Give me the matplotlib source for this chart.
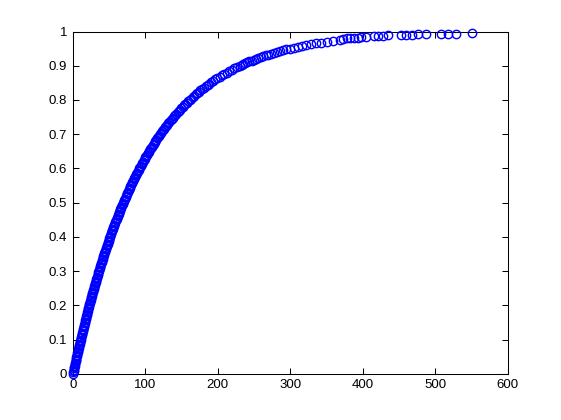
import matplotlib
matplotlib.use("Agg")
import matplotlib.pyplot as plt

x_vals = [
    0.00, 0.40, 0.80, 1.21, 1.61, 2.02, 2.43, 2.84, 3.25, 3.67,
    4.08, 4.50, 4.92, 5.34, 5.76, 6.19, 6.61, 7.04, 7.47, 7.90,
    8.34, 8.77, 9.21, 9.65, 10.09, 10.54, 10.98, 11.43, 11.88, 12.33,
    12.78, 13.24, 13.70, 14.16, 14.62, 15.08, 15.55, 16.02, 16.49, 16.96,
    17.44, 17.91, 18.39, 18.87, 19.36, 19.85, 20.33, 20.83, 21.32, 21.82,
    22.31, 22.82, 23.32, 23.83, 24.34, 24.85, 25.36, 25.88, 26.40, 26.92,
    27.44, 27.97, 28.50, 29.04, 29.57, 30.11, 30.65, 31.20, 31.74, 32.30,
    32.85, 33.41, 33.97, 34.53, 35.10, 35.67, 36.24, 36.82, 37.40, 37.98,
    38.57, 39.16, 39.75, 40.35, 40.95, 41.55, 42.16, 42.77, 43.39, 44.00,
    44.63, 45.26, 45.89, 46.52, 47.16, 47.80, 48.45, 49.10, 49.76, 50.42,
    51.08, 51.75, 52.42, 53.10, 53.78, 54.47, 55.16, 55.86, 56.56, 57.27,
    57.98, 58.70, 59.42, 60.15, 60.88, 61.62, 62.36, 63.11, 63.87, 64.63,
    65.39, 66.17, 66.94, 67.73, 68.52, 69.31, 70.12, 70.93, 71.74, 72.57,
    73.40, 74.23, 75.08, 75.93, 76.79, 77.65, 78.53, 79.41, 80.30, 81.20,
    82.10, 83.02, 83.94, 84.87, 85.80, 86.75, 87.71, 88.67, 89.65, 90.63,
    91.63, 92.63, 93.65, 94.67, 95.71, 96.76, 97.82, 98.89, 99.97, 101.06,
    102.17, 103.28, 104.41, 105.55, 106.71, 107.88, 109.06, 110.26, 111.47, 112.70,
    113.94, 115.20, 116.47, 117.76, 119.07, 120.40, 121.74, 123.10, 124.48, 125.88,
    127.30, 128.74, 130.20, 131.68, 133.18, 134.71, 136.26, 137.83, 139.43, 141.06,
    142.71, 144.39, 146.10, 147.84, 149.61, 151.41, 153.25, 155.12, 157.02, 158.96,
    160.94, 162.96, 165.02, 167.12, 169.27, 171.48, 173.72, 176.02, 178.38, 180.79,
    183.26, 185.79, 188.39, 191.05, 193.79, 196.61, 199.50, 202.49, 205.56, 208.72,
    212.02, 215.39, 218.88, 222.50, 226.26, 230.26, 232.80, 235.39, 238.06, 240.79,
    243.60, 246.50, 249.50, 252.57, 255.80, 259.03, 262.40, 265.93, 269.60, 273.31,
    277.30, 281.34, 285.60, 290.04, 294.70, 299.57, 304.70, 310.07, 315.80, 321.89,
    328.30, 335.20, 342.60, 350.66, 359.40, 368.90,
    373.0, 378.0, 383.0, 388.0, 393.0, 398.0, 404.0, 415.0, 421.0, 428.0,
    435.0, 453.0, 460.0, 468.0, 476.0, 487.0, 508.0, 518.0, 529.0, 551.0]

y_vals = [
    0.000, 0.004, 0.008, 0.012, 0.016, 0.020, 0.024, 0.028, 0.032, 0.036,
    0.040, 0.044, 0.048, 0.052, 0.056, 0.060, 0.064, 0.068, 0.072, 0.076,
    0.080, 0.084, 0.088, 0.092, 0.096, 0.100, 0.104, 0.108, 0.112, 0.116,
    0.120, 0.124, 0.128, 0.132, 0.136, 0.140, 0.144, 0.148, 0.152, 0.156,
    0.160, 0.164, 0.168, 0.172, 0.176, 0.180, 0.184, 0.188, 0.192, 0.196,
    0.200, 0.204, 0.208, 0.212, 0.216, 0.220, 0.224, 0.228, 0.232, 0.236,
    0.240, 0.244, 0.248, 0.252, 0.256, 0.260, 0.264, 0.268, 0.272, 0.276,
    0.280, 0.284, 0.288, 0.292, 0.296, 0.300, 0.304, 0.308, 0.312, 0.316,
    0.320, 0.324, 0.328, 0.332, 0.336, 0.340, 0.344, 0.348, 0.352, 0.356,
    0.360, 0.364, 0.368, 0.372, 0.376, 0.380, 0.384, 0.388, 0.392, 0.396,
    0.400, 0.404, 0.408, 0.412, 0.416, 0.420, 0.424, 0.428, 0.432, 0.436,
    0.440, 0.444, 0.448, 0.452, 0.456, 0.460, 0.464, 0.468, 0.472, 0.476,
    0.480, 0.484, 0.488, 0.492, 0.496, 0.500, 0.504, 0.508, 0.512, 0.516,
    0.520, 0.524, 0.528, 0.532, 0.536, 0.540, 0.544, 0.548, 0.552, 0.556,
    0.560, 0.564, 0.568, 0.572, 0.576, 0.580, 0.584, 0.588, 0.592, 0.596,
    0.600, 0.604, 0.608, 0.612, 0.616, 0.620, 0.624, 0.628, 0.632, 0.636,
    0.640, 0.644, 0.648, 0.652, 0.656, 0.660, 0.664, 0.668, 0.672, 0.676,
    0.680, 0.684, 0.688, 0.692, 0.696, 0.700, 0.704, 0.708, 0.712, 0.716,
    0.720, 0.724, 0.728, 0.732, 0.736, 0.740, 0.744, 0.748, 0.752, 0.756,
    0.760, 0.764, 0.768, 0.772, 0.776, 0.780, 0.784, 0.788, 0.792, 0.796,
    0.800, 0.804, 0.808, 0.812, 0.816, 0.820, 0.824, 0.828, 0.832, 0.836,
    0.840, 0.844, 0.848, 0.852, 0.856, 0.860, 0.864, 0.868, 0.872, 0.876,
    0.880, 0.884, 0.888, 0.892, 0.896, 0.900, 0.9025, 0.905, 0.9075, 0.910,
    0.9125, 0.915, 0.9175, 0.920, 0.9225, 0.925, 0.9275, 0.930, 0.9325, 0.935,
    0.9375, 0.940, 0.9425, 0.945, 0.9475, 0.950, 0.9525, 0.955, 0.9575, 0.960,
    0.9625, 0.965, 0.9675, 0.970, 0.9725, 0.975,
    0.979, 0.980, 0.981, 0.981, 0.982, 0.983, 0.984, 0.987, 0.988, 0.988,
    0.989, 0.990, 0.991, 0.991, 0.992, 0.992, 0.993, 0.994, 0.994, 0.995]

x_ticks = [0, 100, 200, 300, 400, 500, 600]
y_ticks = [0, 0.1, 0.2, 0.3, 0.4, 0.5, 0.6, 0.7, 0.8, 0.9, 1]
x_labels = ["0", "100", "200", "300", "400", "500", "600"]
y_labels = ["0", "0.1", "0.2", "0.3", "0.4", "0.5", "0.6", "0.7", "0.8", "0.9", "1"]

plt.rcParams['font.family'] = ['Liberation Sans', 'DejaVu Sans']

fig = plt.figure(figsize=(5.61, 4.2), dpi=100)
ax = fig.add_axes([0.13, 0.11, 0.775, 0.815])
ax.plot(x_vals, y_vals, linestyle='none', marker='o', markersize=6,
        markerfacecolor='none', markeredgecolor='#0000ff', markeredgewidth=1.0,
        antialiased=False, clip_on=False, zorder=3)
ax.set_xlim(0, 600)
ax.set_ylim(0, 1)
ax.set_xticks(x_ticks)
ax.set_xticklabels(x_labels)
ax.set_yticks(y_ticks)
ax.set_yticklabels(y_labels)
ax.tick_params(direction='in', length=4, width=0.75, top=True, right=True,
               labelsize=9.5, pad=4)
for s in ax.spines.values():
    s.set_linewidth(0.75)
fig.savefig("out.png", dpi=100)
